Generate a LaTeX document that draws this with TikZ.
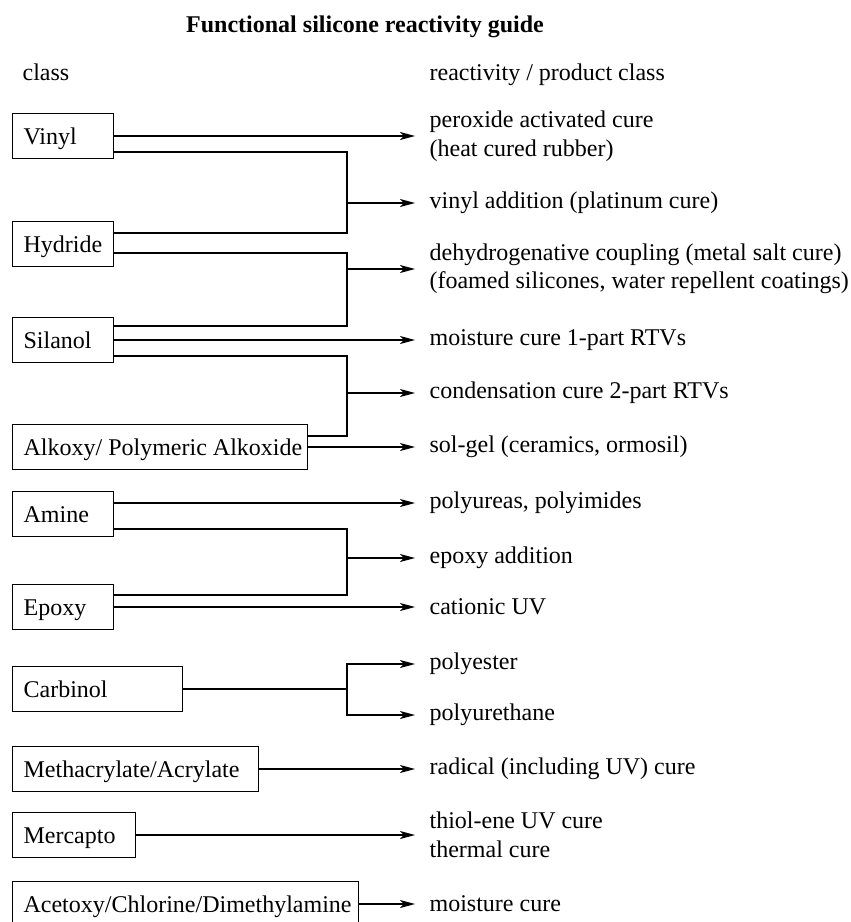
\documentclass[tikz,border=0pt]{standalone}
\usepackage{fontspec}
\setmainfont{Liberation Serif}
\usetikzlibrary{arrows.meta}

\begin{document}
\begin{tikzpicture}[
    x=1pt, y=-1pt,
    font=\fontsize{24}{28.5}\selectfont,
    line width=1.2pt,
    classbox/.style={draw,anchor=west,minimum height=45pt,inner xsep=11pt,inner ysep=0pt,
      text height=17pt,text depth=1pt},
    product/.style={anchor=west,inner xsep=14pt,inner ysep=0pt,align=left},
    heading/.style={anchor=base west,inner sep=0pt},
    arrow/.style={-{Stealth[length=15pt,width=8pt,inset=4pt]}}
  ]
  \useasboundingbox (0,0) rectangle (851,922);

  % headings
  \node[anchor=base,inner sep=0pt,font=\fontsize{24}{28.5}\selectfont\bfseries] (title) at (365,32) {Functional silicone reactivity guide};
  \node[heading] (classhead) at (22,80) {class};
  \node[heading] (prodhead) at (429,80) {reactivity / product class};

  % silicone classes
  \node[classbox] (vinyl) at (12,136) {\makebox[79pt][l]{Vinyl}};
  \node[classbox] (hydride) at (12,244) {\makebox[79pt][l]{Hydride}};
  \node[classbox] (silanol) at (12,340) {\makebox[79pt][l]{Silanol}};
  \node[classbox] (alkoxy) at (12,447) {\makebox[273pt][l]{Alkoxy/ Polymeric Alkoxide}};
  \node[classbox] (amine) at (12,514) {\makebox[79pt][l]{Amine}};
  \node[classbox] (epoxy) at (12,607) {\makebox[79pt][l]{Epoxy}};
  \node[classbox] (carbinol) at (12,689) {\makebox[148pt][l]{Carbinol}};
  \node[classbox] (methacryl) at (12,769) {\makebox[224pt][l]{Methacrylate/Acrylate}};
  \node[classbox] (mercapto) at (12,835) {\makebox[101pt][l]{Mercapto}};
  \node[classbox] (acetoxy) at (12,904) {\makebox[324pt][l]{Acetoxy/Chlorine/Dimethylamine}};

  % reactivity / products
  \node[product] (peroxide) at (415,136) {peroxide activated cure\\(heat cured rubber)};
  \node[product] (vinyladd) at (415,203) {vinyl addition (platinum cure)};
  \node[product] (dehydro) at (415,269) {dehydrogenative coupling (metal salt cure)\\(foamed silicones, water repellent coatings)};
  \node[product] (moist1) at (415,340) {moisture cure 1-part RTVs};
  \node[product] (condens) at (415,393) {condensation cure 2-part RTVs};
  \node[product] (solgel) at (415,447) {sol-gel (ceramics, ormosil)};
  \node[product] (polyurea) at (415,503) {polyureas, polyimides};
  \node[product] (epoxyadd) at (415,558) {epoxy addition};
  \node[product] (cationic) at (415,607) {cationic UV};
  \node[product] (polyester) at (415,664) {polyester};
  \node[product] (polyureth) at (415,715) {polyurethane};
  \node[product] (radical) at (415,769) {radical (including UV) cure};
  \node[product] (thiol) at (415,835) {thiol-ene UV cure\\thermal cure};
  \node[product] (moist2) at (415,904) {moisture cure};

  % branch points
  \coordinate (b1) at (347,203);
  \coordinate (b2) at (347,269);
  \coordinate (b3) at (347,393);
  \coordinate (b4) at (347,558);
  \coordinate (b5) at (347,689);

  % joined classes
  \draw ([yshift=-16pt]vinyl.east) -| (b1) |- ([yshift=11pt]hydride.east);
  \draw ([yshift=-9pt]hydride.east) -| (b2) |- ([yshift=14pt]silanol.east);
  \draw ([yshift=-16pt]silanol.east) -| (b3) |- ([yshift=11pt]alkoxy.east);
  \draw ([yshift=-15pt]amine.east) -| (b4) |- ([yshift=12pt]epoxy.east);
  \draw (carbinol.east) -- (b5);

  % arrows
  \draw[arrow] (vinyl.east) -- (peroxide.west);
  \draw[arrow] (b1) -- (vinyladd.west);
  \draw[arrow] (b2) -- (dehydro.west);
  \draw[arrow] (silanol.east) -- (moist1.west);
  \draw[arrow] (b3) -- (condens.west);
  \draw[arrow] (alkoxy.east) -- (solgel.west);
  \draw[arrow] ([yshift=11pt]amine.east) -- (polyurea.west);
  \draw[arrow] (b4) -- (epoxyadd.west);
  \draw[arrow] (epoxy.east) -- (cationic.west);
  \draw[arrow] (b5) |- (polyester.west);
  \draw[arrow] (b5) |- (polyureth.west);
  \draw[arrow] (methacryl.east) -- (radical.west);
  \draw[arrow] (mercapto.east) -- (thiol.west);
  \draw[arrow] (acetoxy.east) -- (moist2.west);
\end{tikzpicture}
\end{document}
